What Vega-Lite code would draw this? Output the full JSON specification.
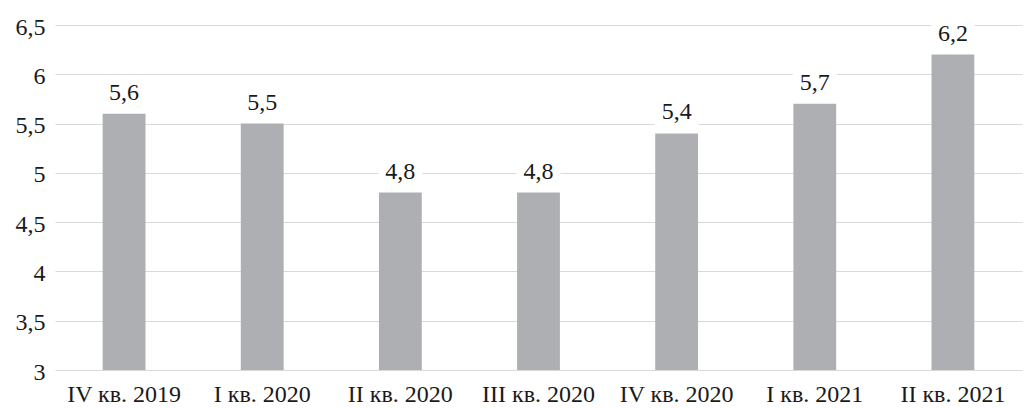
{
  "$schema": "https://vega.github.io/schema/vega-lite/v6.json",
  "autosize": "none",
  "width": 967,
  "height": 345,
  "padding": {"left": 55, "top": 25, "right": 6, "bottom": 38},
  "background": "white",
  "config": {
    "locale": {"number": {"decimal": ",", "thousands": " ", "grouping": [3], "currency": ["", ""]}},
    "font": "Liberation Serif",
    "view": {"stroke": null}
  },
  "data": {
    "values": [
      {"quarter": "IV кв. 2019", "value": 5.6},
      {"quarter": "I кв. 2020", "value": 5.5},
      {"quarter": "II кв. 2020", "value": 4.8},
      {"quarter": "III кв. 2020", "value": 4.8},
      {"quarter": "IV кв. 2020", "value": 5.4},
      {"quarter": "I кв. 2021", "value": 5.7},
      {"quarter": "II кв. 2021", "value": 6.2}
    ]
  },
  "encoding": {
    "x": {
      "field": "quarter",
      "type": "nominal",
      "sort": null,
      "scale": {"paddingInner": 0.69, "paddingOuter": 0.345},
      "axis": {
        "title": null,
        "labelAngle": 0,
        "labelFont": "Liberation Serif",
        "labelFontSize": 24,
        "labelColor": "#1a1a1a",
        "labelPadding": 12,
        "ticks": false,
        "domain": false
      }
    },
    "y": {
      "field": "value",
      "type": "quantitative",
      "scale": {"domain": [3, 6.5], "zero": false, "nice": false},
      "axis": {
        "title": null,
        "values": [3, 3.5, 4, 4.5, 5, 5.5, 6, 6.5],
        "format": ".1~f",
        "labelFont": "Liberation Serif",
        "labelFontSize": 24,
        "labelColor": "#1a1a1a",
        "labelPadding": 10,
        "labelOffset": 2,
        "ticks": false,
        "domain": false,
        "grid": true,
        "gridColor": "#d9d9d9",
        "gridWidth": 1.2
      }
    }
  },
  "layer": [
    {
      "mark": {"type": "bar", "color": "#aeafb2"},
      "encoding": {"y2": {"datum": 3}}
    },
    {
      "mark": {"type": "point", "shape": "M-1,-0.64H1V0.64H-1Z", "size": 1936, "filled": true, "color": "white", "opacity": 1, "strokeWidth": 0, "yOffset": -19}
    },
    {
      "mark": {"type": "text", "font": "Liberation Serif", "baseline": "alphabetic", "dy": -14, "fontSize": 24, "color": "#1a1a1a"},
      "encoding": {"text": {"field": "value", "type": "quantitative", "format": ".1f"}}
    }
  ]
}
